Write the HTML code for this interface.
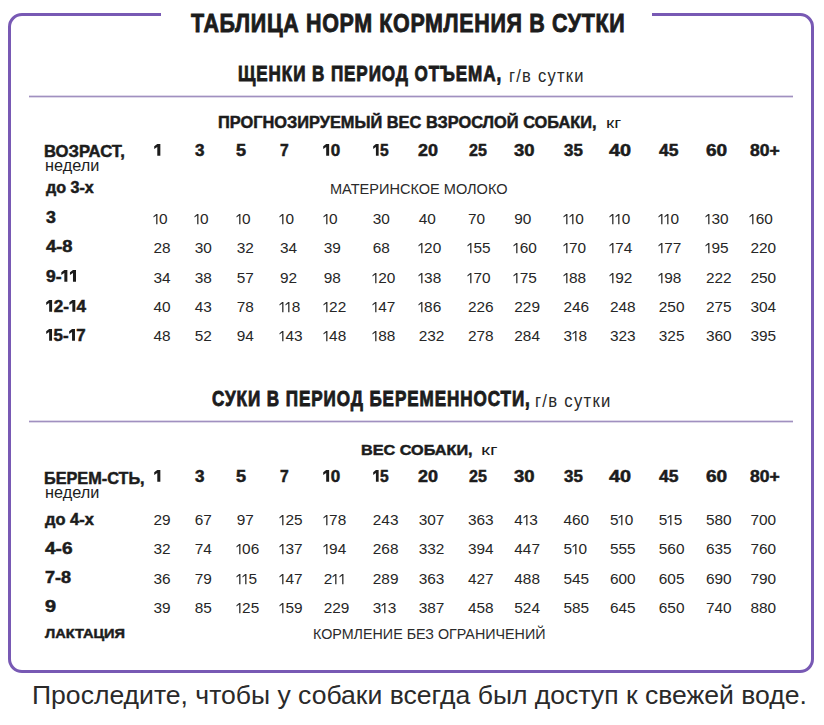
<!DOCTYPE html>
<html><head><meta charset="utf-8"><style>
html,body{margin:0;padding:0;background:#fff;width:824px;height:725px;overflow:hidden;}
body{position:relative;font-family:"Liberation Sans",sans-serif;}
.t{position:absolute;white-space:nowrap;line-height:1;transform-origin:0 0;}
.one{display:inline-block;width:6.4px;height:0.67em;fill:currentColor;vertical-align:baseline;overflow:visible;}
.one.bd{width:7.3px;height:0.73em;}
.ln{position:absolute;left:29px;width:764px;height:1px;background:#a090c0;box-shadow:0 1px 0 rgba(160,144,192,.35),0 -1px 0 rgba(160,144,192,.35);}
.box{position:absolute;left:8px;top:13px;width:800px;height:653.5px;border:3px solid #7859b4;border-radius:14px;}
.gap{position:absolute;left:161px;top:10px;width:491px;height:10px;background:#fff;}
</style></head><body>
<div class="box"></div><div class="gap"></div>
<div class="t" id="title" style="left:190.60px;top:10.00px;font-size:26.2px;font-weight:700;color:#1c1c1c;letter-spacing:0.8px;-webkit-text-stroke:0.9px #1c1c1c;transform:scaleX(0.8193);">ТАБЛИЦА НОРМ КОРМЛЕНИЯ В СУТКИ</div>
<div class="t" id="sub1" style="left:238.00px;top:63.00px;font-size:22.5px;font-weight:700;color:#1c1c1c;letter-spacing:1.2px;-webkit-text-stroke:0.9px #1c1c1c;transform:scaleX(0.7587);">ЩЕНКИ В ПЕРИОД ОТЪЕМА,</div>
<div class="t" id="sub1r" style="left:508.60px;top:67.00px;font-size:18.5px;font-weight:400;color:#2a2a2a;letter-spacing:1.4px;transform:scaleX(0.8922);">г/в сутки</div>
<div class="ln" style="top:96px"></div>
<div class="t" id="head1" style="left:218.30px;top:115.00px;font-size:16px;font-weight:700;color:#1c1c1c;-webkit-text-stroke:0.5px #1c1c1c;transform:scaleX(1.0229);">ПРОГНОЗИРУЕМЫЙ ВЕС ВЗРОСЛОЙ СОБАКИ,</div>
<div class="t" id="head1r" style="left:606.20px;top:115.00px;font-size:15.5px;font-weight:400;color:#1c1c1c;transform:scaleX(1.2196);">кг</div>
<div class="t" id="t1lab" style="left:44.00px;top:143.00px;font-size:16.3px;font-weight:700;color:#1c1c1c;-webkit-text-stroke:0.5px #1c1c1c;transform:scaleX(1.0214);">ВОЗРАСТ,</div>
<div class="t" id="t1ned" style="left:44.60px;top:157.00px;font-size:16.4px;font-weight:400;color:#1c1c1c;transform:scaleX(0.9922);">недели</div>
<div class="t" id="t1h0" style="left:153.50px;top:143.00px;font-size:16.0px;font-weight:700;color:#1c1c1c;-webkit-text-stroke:0.5px #1c1c1c;transform:scaleX(1.0946);"><svg class="one bd" viewBox="0 0 73 100" preserveAspectRatio="none"><path d="M30 0H58V100H30V25L2 43V19Z"/></svg></div>
<div class="t" id="t1h1" style="left:194.70px;top:143.00px;font-size:16.0px;font-weight:700;color:#1c1c1c;-webkit-text-stroke:0.5px #1c1c1c;transform:scaleX(1.0641);">3</div>
<div class="t" id="t1h2" style="left:236.20px;top:143.00px;font-size:16.0px;font-weight:700;color:#1c1c1c;-webkit-text-stroke:0.5px #1c1c1c;transform:scaleX(1.1290);">5</div>
<div class="t" id="t1h3" style="left:280.00px;top:143.00px;font-size:16.0px;font-weight:700;color:#1c1c1c;-webkit-text-stroke:0.5px #1c1c1c;transform:scaleX(0.9783);">7</div>
<div class="t" id="t1h4" style="left:323.20px;top:143.00px;font-size:16.0px;font-weight:700;color:#1c1c1c;-webkit-text-stroke:0.5px #1c1c1c;transform:scaleX(1.0604);"><svg class="one bd" viewBox="0 0 73 100" preserveAspectRatio="none"><path d="M30 0H58V100H30V25L2 43V19Z"/></svg>0</div>
<div class="t" id="t1h5" style="left:372.80px;top:143.00px;font-size:16.0px;font-weight:700;color:#1c1c1c;-webkit-text-stroke:0.5px #1c1c1c;transform:scaleX(0.9731);"><svg class="one bd" viewBox="0 0 73 100" preserveAspectRatio="none"><path d="M30 0H58V100H30V25L2 43V19Z"/></svg>5</div>
<div class="t" id="t1h6" style="left:418.20px;top:143.00px;font-size:16.0px;font-weight:700;color:#1c1c1c;-webkit-text-stroke:0.5px #1c1c1c;transform:scaleX(1.1207);">20</div>
<div class="t" id="t1h7" style="left:468.50px;top:143.00px;font-size:16.0px;font-weight:700;color:#1c1c1c;-webkit-text-stroke:0.5px #1c1c1c;transform:scaleX(1.0008);">25</div>
<div class="t" id="t1h8" style="left:513.80px;top:143.00px;font-size:16.0px;font-weight:700;color:#1c1c1c;-webkit-text-stroke:0.5px #1c1c1c;transform:scaleX(1.1519);">30</div>
<div class="t" id="t1h9" style="left:563.50px;top:143.00px;font-size:16.0px;font-weight:700;color:#1c1c1c;-webkit-text-stroke:0.5px #1c1c1c;transform:scaleX(1.0549);">35</div>
<div class="t" id="t1h10" style="left:609.40px;top:143.00px;font-size:16.0px;font-weight:700;color:#1c1c1c;-webkit-text-stroke:0.5px #1c1c1c;transform:scaleX(1.2379);">40</div>
<div class="t" id="t1h11" style="left:658.80px;top:143.00px;font-size:16.0px;font-weight:700;color:#1c1c1c;-webkit-text-stroke:0.5px #1c1c1c;transform:scaleX(1.0919);">45</div>
<div class="t" id="t1h12" style="left:706.00px;top:143.00px;font-size:16.0px;font-weight:700;color:#1c1c1c;-webkit-text-stroke:0.5px #1c1c1c;transform:scaleX(1.1877);">60</div>
<div class="t" id="t1h13" style="left:750.40px;top:143.00px;font-size:16.0px;font-weight:700;color:#1c1c1c;-webkit-text-stroke:0.5px #1c1c1c;transform:scaleX(1.0940);">80+</div>
<div class="t" id="t1do" style="left:45.50px;top:180.00px;font-size:16.0px;font-weight:700;color:#1c1c1c;-webkit-text-stroke:0.5px #1c1c1c;transform:scaleX(1.0059);">до 3-х</div>
<div class="t" id="t1mat" style="left:330.30px;top:182.00px;font-size:14px;font-weight:400;color:#2a2a2a;transform:scaleX(1.0387);">МАТЕРИНСКОЕ МОЛОКО</div>
<div class="t" id="t1r0" style="left:45.50px;top:209.00px;font-size:16.2px;font-weight:700;color:#1c1c1c;-webkit-text-stroke:0.5px #1c1c1c;transform:scaleX(1.0987);">3</div>
<div class="t" id="t1r0c0" style="left:152.50px;top:211.00px;font-size:15.4px;font-weight:400;color:#262626;"><svg class="one" viewBox="0 0 64 100" preserveAspectRatio="none"><path d="M32 0H44.5V100H32V14L5 35V21Z"/></svg>0</div>
<div class="t" id="t1r0c1" style="left:193.70px;top:211.00px;font-size:15.4px;font-weight:400;color:#262626;"><svg class="one" viewBox="0 0 64 100" preserveAspectRatio="none"><path d="M32 0H44.5V100H32V14L5 35V21Z"/></svg>0</div>
<div class="t" id="t1r0c2" style="left:235.70px;top:211.00px;font-size:15.4px;font-weight:400;color:#262626;"><svg class="one" viewBox="0 0 64 100" preserveAspectRatio="none"><path d="M32 0H44.5V100H32V14L5 35V21Z"/></svg>0</div>
<div class="t" id="t1r0c3" style="left:279.00px;top:211.00px;font-size:15.4px;font-weight:400;color:#262626;"><svg class="one" viewBox="0 0 64 100" preserveAspectRatio="none"><path d="M32 0H44.5V100H32V14L5 35V21Z"/></svg>0</div>
<div class="t" id="t1r0c4" style="left:322.70px;top:211.00px;font-size:15.4px;font-weight:400;color:#262626;"><svg class="one" viewBox="0 0 64 100" preserveAspectRatio="none"><path d="M32 0H44.5V100H32V14L5 35V21Z"/></svg>0</div>
<div class="t" id="t1r0c5" style="left:372.80px;top:211.00px;font-size:15.4px;font-weight:400;color:#262626;">30</div>
<div class="t" id="t1r0c6" style="left:418.70px;top:211.00px;font-size:15.4px;font-weight:400;color:#262626;">40</div>
<div class="t" id="t1r0c7" style="left:468.00px;top:211.00px;font-size:15.4px;font-weight:400;color:#262626;">70</div>
<div class="t" id="t1r0c8" style="left:514.30px;top:211.00px;font-size:15.4px;font-weight:400;color:#262626;">90</div>
<div class="t" id="t1r0c9" style="left:562.50px;top:211.00px;font-size:15.4px;font-weight:400;color:#262626;"><svg class="one" viewBox="0 0 64 100" preserveAspectRatio="none"><path d="M32 0H44.5V100H32V14L5 35V21Z"/></svg><svg class="one" viewBox="0 0 64 100" preserveAspectRatio="none"><path d="M32 0H44.5V100H32V14L5 35V21Z"/></svg>0</div>
<div class="t" id="t1r0c10" style="left:608.90px;top:211.00px;font-size:15.4px;font-weight:400;color:#262626;"><svg class="one" viewBox="0 0 64 100" preserveAspectRatio="none"><path d="M32 0H44.5V100H32V14L5 35V21Z"/></svg><svg class="one" viewBox="0 0 64 100" preserveAspectRatio="none"><path d="M32 0H44.5V100H32V14L5 35V21Z"/></svg>0</div>
<div class="t" id="t1r0c11" style="left:657.80px;top:211.00px;font-size:15.4px;font-weight:400;color:#262626;"><svg class="one" viewBox="0 0 64 100" preserveAspectRatio="none"><path d="M32 0H44.5V100H32V14L5 35V21Z"/></svg><svg class="one" viewBox="0 0 64 100" preserveAspectRatio="none"><path d="M32 0H44.5V100H32V14L5 35V21Z"/></svg>0</div>
<div class="t" id="t1r0c12" style="left:705.00px;top:211.00px;font-size:15.4px;font-weight:400;color:#262626;"><svg class="one" viewBox="0 0 64 100" preserveAspectRatio="none"><path d="M32 0H44.5V100H32V14L5 35V21Z"/></svg>30</div>
<div class="t" id="t1r0c13" style="left:749.40px;top:211.00px;font-size:15.4px;font-weight:400;color:#262626;"><svg class="one" viewBox="0 0 64 100" preserveAspectRatio="none"><path d="M32 0H44.5V100H32V14L5 35V21Z"/></svg>60</div>
<div class="t" id="t1r1" style="left:45.50px;top:238.00px;font-size:16.2px;font-weight:700;color:#1c1c1c;-webkit-text-stroke:0.5px #1c1c1c;transform:scaleX(1.1342);">4-8</div>
<div class="t" id="t1r1c0" style="left:153.50px;top:240.00px;font-size:15.4px;font-weight:400;color:#262626;">28</div>
<div class="t" id="t1r1c1" style="left:194.70px;top:240.00px;font-size:15.4px;font-weight:400;color:#262626;">30</div>
<div class="t" id="t1r1c2" style="left:236.70px;top:240.00px;font-size:15.4px;font-weight:400;color:#262626;">32</div>
<div class="t" id="t1r1c3" style="left:280.00px;top:240.00px;font-size:15.4px;font-weight:400;color:#262626;">34</div>
<div class="t" id="t1r1c4" style="left:323.70px;top:240.00px;font-size:15.4px;font-weight:400;color:#262626;">39</div>
<div class="t" id="t1r1c5" style="left:372.80px;top:240.00px;font-size:15.4px;font-weight:400;color:#262626;">68</div>
<div class="t" id="t1r1c6" style="left:417.70px;top:240.00px;font-size:15.4px;font-weight:400;color:#262626;"><svg class="one" viewBox="0 0 64 100" preserveAspectRatio="none"><path d="M32 0H44.5V100H32V14L5 35V21Z"/></svg>20</div>
<div class="t" id="t1r1c7" style="left:467.00px;top:240.00px;font-size:15.4px;font-weight:400;color:#262626;"><svg class="one" viewBox="0 0 64 100" preserveAspectRatio="none"><path d="M32 0H44.5V100H32V14L5 35V21Z"/></svg>55</div>
<div class="t" id="t1r1c8" style="left:513.30px;top:240.00px;font-size:15.4px;font-weight:400;color:#262626;"><svg class="one" viewBox="0 0 64 100" preserveAspectRatio="none"><path d="M32 0H44.5V100H32V14L5 35V21Z"/></svg>60</div>
<div class="t" id="t1r1c9" style="left:562.50px;top:240.00px;font-size:15.4px;font-weight:400;color:#262626;"><svg class="one" viewBox="0 0 64 100" preserveAspectRatio="none"><path d="M32 0H44.5V100H32V14L5 35V21Z"/></svg>70</div>
<div class="t" id="t1r1c10" style="left:608.90px;top:240.00px;font-size:15.4px;font-weight:400;color:#262626;"><svg class="one" viewBox="0 0 64 100" preserveAspectRatio="none"><path d="M32 0H44.5V100H32V14L5 35V21Z"/></svg>74</div>
<div class="t" id="t1r1c11" style="left:657.80px;top:240.00px;font-size:15.4px;font-weight:400;color:#262626;"><svg class="one" viewBox="0 0 64 100" preserveAspectRatio="none"><path d="M32 0H44.5V100H32V14L5 35V21Z"/></svg>77</div>
<div class="t" id="t1r1c12" style="left:705.00px;top:240.00px;font-size:15.4px;font-weight:400;color:#262626;"><svg class="one" viewBox="0 0 64 100" preserveAspectRatio="none"><path d="M32 0H44.5V100H32V14L5 35V21Z"/></svg>95</div>
<div class="t" id="t1r1c13" style="left:750.40px;top:240.00px;font-size:15.4px;font-weight:400;color:#262626;">220</div>
<div class="t" id="t1r2" style="left:45.50px;top:268.00px;font-size:16.2px;font-weight:700;color:#1c1c1c;-webkit-text-stroke:0.5px #1c1c1c;transform:scaleX(1.0791);">9-<svg class="one bd" viewBox="0 0 73 100" preserveAspectRatio="none"><path d="M30 0H58V100H30V25L2 43V19Z"/></svg><svg class="one bd" viewBox="0 0 73 100" preserveAspectRatio="none"><path d="M30 0H58V100H30V25L2 43V19Z"/></svg></div>
<div class="t" id="t1r2c0" style="left:153.50px;top:270.00px;font-size:15.4px;font-weight:400;color:#262626;">34</div>
<div class="t" id="t1r2c1" style="left:194.70px;top:270.00px;font-size:15.4px;font-weight:400;color:#262626;">38</div>
<div class="t" id="t1r2c2" style="left:236.70px;top:270.00px;font-size:15.4px;font-weight:400;color:#262626;">57</div>
<div class="t" id="t1r2c3" style="left:280.00px;top:270.00px;font-size:15.4px;font-weight:400;color:#262626;">92</div>
<div class="t" id="t1r2c4" style="left:323.70px;top:270.00px;font-size:15.4px;font-weight:400;color:#262626;">98</div>
<div class="t" id="t1r2c5" style="left:371.80px;top:270.00px;font-size:15.4px;font-weight:400;color:#262626;"><svg class="one" viewBox="0 0 64 100" preserveAspectRatio="none"><path d="M32 0H44.5V100H32V14L5 35V21Z"/></svg>20</div>
<div class="t" id="t1r2c6" style="left:417.70px;top:270.00px;font-size:15.4px;font-weight:400;color:#262626;"><svg class="one" viewBox="0 0 64 100" preserveAspectRatio="none"><path d="M32 0H44.5V100H32V14L5 35V21Z"/></svg>38</div>
<div class="t" id="t1r2c7" style="left:467.00px;top:270.00px;font-size:15.4px;font-weight:400;color:#262626;"><svg class="one" viewBox="0 0 64 100" preserveAspectRatio="none"><path d="M32 0H44.5V100H32V14L5 35V21Z"/></svg>70</div>
<div class="t" id="t1r2c8" style="left:513.30px;top:270.00px;font-size:15.4px;font-weight:400;color:#262626;"><svg class="one" viewBox="0 0 64 100" preserveAspectRatio="none"><path d="M32 0H44.5V100H32V14L5 35V21Z"/></svg>75</div>
<div class="t" id="t1r2c9" style="left:562.50px;top:270.00px;font-size:15.4px;font-weight:400;color:#262626;"><svg class="one" viewBox="0 0 64 100" preserveAspectRatio="none"><path d="M32 0H44.5V100H32V14L5 35V21Z"/></svg>88</div>
<div class="t" id="t1r2c10" style="left:608.90px;top:270.00px;font-size:15.4px;font-weight:400;color:#262626;"><svg class="one" viewBox="0 0 64 100" preserveAspectRatio="none"><path d="M32 0H44.5V100H32V14L5 35V21Z"/></svg>92</div>
<div class="t" id="t1r2c11" style="left:657.80px;top:270.00px;font-size:15.4px;font-weight:400;color:#262626;"><svg class="one" viewBox="0 0 64 100" preserveAspectRatio="none"><path d="M32 0H44.5V100H32V14L5 35V21Z"/></svg>98</div>
<div class="t" id="t1r2c12" style="left:706.00px;top:270.00px;font-size:15.4px;font-weight:400;color:#262626;">222</div>
<div class="t" id="t1r2c13" style="left:750.40px;top:270.00px;font-size:15.4px;font-weight:400;color:#262626;">250</div>
<div class="t" id="t1r3" style="left:45.50px;top:298.00px;font-size:16.2px;font-weight:700;color:#1c1c1c;-webkit-text-stroke:0.5px #1c1c1c;transform:scaleX(1.0543);"><svg class="one bd" viewBox="0 0 73 100" preserveAspectRatio="none"><path d="M30 0H58V100H30V25L2 43V19Z"/></svg>2-<svg class="one bd" viewBox="0 0 73 100" preserveAspectRatio="none"><path d="M30 0H58V100H30V25L2 43V19Z"/></svg>4</div>
<div class="t" id="t1r3c0" style="left:153.50px;top:299.00px;font-size:15.4px;font-weight:400;color:#262626;">40</div>
<div class="t" id="t1r3c1" style="left:194.70px;top:299.00px;font-size:15.4px;font-weight:400;color:#262626;">43</div>
<div class="t" id="t1r3c2" style="left:236.70px;top:299.00px;font-size:15.4px;font-weight:400;color:#262626;">78</div>
<div class="t" id="t1r3c3" style="left:279.00px;top:299.00px;font-size:15.4px;font-weight:400;color:#262626;"><svg class="one" viewBox="0 0 64 100" preserveAspectRatio="none"><path d="M32 0H44.5V100H32V14L5 35V21Z"/></svg><svg class="one" viewBox="0 0 64 100" preserveAspectRatio="none"><path d="M32 0H44.5V100H32V14L5 35V21Z"/></svg>8</div>
<div class="t" id="t1r3c4" style="left:322.70px;top:299.00px;font-size:15.4px;font-weight:400;color:#262626;"><svg class="one" viewBox="0 0 64 100" preserveAspectRatio="none"><path d="M32 0H44.5V100H32V14L5 35V21Z"/></svg>22</div>
<div class="t" id="t1r3c5" style="left:371.80px;top:299.00px;font-size:15.4px;font-weight:400;color:#262626;"><svg class="one" viewBox="0 0 64 100" preserveAspectRatio="none"><path d="M32 0H44.5V100H32V14L5 35V21Z"/></svg>47</div>
<div class="t" id="t1r3c6" style="left:417.70px;top:299.00px;font-size:15.4px;font-weight:400;color:#262626;"><svg class="one" viewBox="0 0 64 100" preserveAspectRatio="none"><path d="M32 0H44.5V100H32V14L5 35V21Z"/></svg>86</div>
<div class="t" id="t1r3c7" style="left:468.00px;top:299.00px;font-size:15.4px;font-weight:400;color:#262626;">226</div>
<div class="t" id="t1r3c8" style="left:514.30px;top:299.00px;font-size:15.4px;font-weight:400;color:#262626;">229</div>
<div class="t" id="t1r3c9" style="left:563.50px;top:299.00px;font-size:15.4px;font-weight:400;color:#262626;">246</div>
<div class="t" id="t1r3c10" style="left:609.90px;top:299.00px;font-size:15.4px;font-weight:400;color:#262626;">248</div>
<div class="t" id="t1r3c11" style="left:658.80px;top:299.00px;font-size:15.4px;font-weight:400;color:#262626;">250</div>
<div class="t" id="t1r3c12" style="left:706.00px;top:299.00px;font-size:15.4px;font-weight:400;color:#262626;">275</div>
<div class="t" id="t1r3c13" style="left:750.40px;top:299.00px;font-size:15.4px;font-weight:400;color:#262626;">304</div>
<div class="t" id="t1r4" style="left:45.50px;top:327.00px;font-size:16.2px;font-weight:700;color:#1c1c1c;-webkit-text-stroke:0.5px #1c1c1c;transform:scaleX(1.0422);"><svg class="one bd" viewBox="0 0 73 100" preserveAspectRatio="none"><path d="M30 0H58V100H30V25L2 43V19Z"/></svg>5-<svg class="one bd" viewBox="0 0 73 100" preserveAspectRatio="none"><path d="M30 0H58V100H30V25L2 43V19Z"/></svg>7</div>
<div class="t" id="t1r4c0" style="left:153.50px;top:328.00px;font-size:15.4px;font-weight:400;color:#262626;">48</div>
<div class="t" id="t1r4c1" style="left:194.70px;top:328.00px;font-size:15.4px;font-weight:400;color:#262626;">52</div>
<div class="t" id="t1r4c2" style="left:236.70px;top:328.00px;font-size:15.4px;font-weight:400;color:#262626;">94</div>
<div class="t" id="t1r4c3" style="left:279.00px;top:328.00px;font-size:15.4px;font-weight:400;color:#262626;"><svg class="one" viewBox="0 0 64 100" preserveAspectRatio="none"><path d="M32 0H44.5V100H32V14L5 35V21Z"/></svg>43</div>
<div class="t" id="t1r4c4" style="left:322.70px;top:328.00px;font-size:15.4px;font-weight:400;color:#262626;"><svg class="one" viewBox="0 0 64 100" preserveAspectRatio="none"><path d="M32 0H44.5V100H32V14L5 35V21Z"/></svg>48</div>
<div class="t" id="t1r4c5" style="left:371.80px;top:328.00px;font-size:15.4px;font-weight:400;color:#262626;"><svg class="one" viewBox="0 0 64 100" preserveAspectRatio="none"><path d="M32 0H44.5V100H32V14L5 35V21Z"/></svg>88</div>
<div class="t" id="t1r4c6" style="left:418.70px;top:328.00px;font-size:15.4px;font-weight:400;color:#262626;">232</div>
<div class="t" id="t1r4c7" style="left:468.00px;top:328.00px;font-size:15.4px;font-weight:400;color:#262626;">278</div>
<div class="t" id="t1r4c8" style="left:514.30px;top:328.00px;font-size:15.4px;font-weight:400;color:#262626;">284</div>
<div class="t" id="t1r4c9" style="left:563.50px;top:328.00px;font-size:15.4px;font-weight:400;color:#262626;">3<svg class="one" viewBox="0 0 64 100" preserveAspectRatio="none"><path d="M32 0H44.5V100H32V14L5 35V21Z"/></svg>8</div>
<div class="t" id="t1r4c10" style="left:609.90px;top:328.00px;font-size:15.4px;font-weight:400;color:#262626;">323</div>
<div class="t" id="t1r4c11" style="left:658.80px;top:328.00px;font-size:15.4px;font-weight:400;color:#262626;">325</div>
<div class="t" id="t1r4c12" style="left:706.00px;top:328.00px;font-size:15.4px;font-weight:400;color:#262626;">360</div>
<div class="t" id="t1r4c13" style="left:750.40px;top:328.00px;font-size:15.4px;font-weight:400;color:#262626;">395</div>
<div class="t" id="sub2" style="left:212.00px;top:388.00px;font-size:22.5px;font-weight:700;color:#1c1c1c;letter-spacing:1.2px;-webkit-text-stroke:0.9px #1c1c1c;transform:scaleX(0.7596);">СУКИ В ПЕРИОД БЕРЕМЕННОСТИ,</div>
<div class="t" id="sub2r" style="left:534.60px;top:392.00px;font-size:18.5px;font-weight:400;color:#2a2a2a;letter-spacing:1.4px;transform:scaleX(0.9025);">г/в сутки</div>
<div class="ln" style="top:421px"></div>
<div class="t" id="head2" style="left:361.30px;top:442.00px;font-size:15.4px;font-weight:700;color:#1c1c1c;-webkit-text-stroke:0.5px #1c1c1c;transform:scaleX(1.0545);">ВЕС СОБАКИ,</div>
<div class="t" id="head2r" style="left:480.60px;top:442.00px;font-size:15.5px;font-weight:400;color:#1c1c1c;transform:scaleX(1.3304);">кг</div>
<div class="t" id="t2lab" style="left:44.00px;top:470.00px;font-size:16.3px;font-weight:700;color:#1c1c1c;-webkit-text-stroke:0.5px #1c1c1c;transform:scaleX(0.9984);">БЕРЕМ-СТЬ,</div>
<div class="t" id="t2ned" style="left:44.60px;top:484.00px;font-size:16.4px;font-weight:400;color:#1c1c1c;transform:scaleX(0.9922);">недели</div>
<div class="t" id="t2h0" style="left:153.50px;top:469.00px;font-size:16.0px;font-weight:700;color:#1c1c1c;-webkit-text-stroke:0.5px #1c1c1c;transform:scaleX(1.0946);"><svg class="one bd" viewBox="0 0 73 100" preserveAspectRatio="none"><path d="M30 0H58V100H30V25L2 43V19Z"/></svg></div>
<div class="t" id="t2h1" style="left:194.70px;top:469.00px;font-size:16.0px;font-weight:700;color:#1c1c1c;-webkit-text-stroke:0.5px #1c1c1c;transform:scaleX(1.0641);">3</div>
<div class="t" id="t2h2" style="left:236.20px;top:469.00px;font-size:16.0px;font-weight:700;color:#1c1c1c;-webkit-text-stroke:0.5px #1c1c1c;transform:scaleX(1.1290);">5</div>
<div class="t" id="t2h3" style="left:280.00px;top:469.00px;font-size:16.0px;font-weight:700;color:#1c1c1c;-webkit-text-stroke:0.5px #1c1c1c;transform:scaleX(0.9783);">7</div>
<div class="t" id="t2h4" style="left:323.20px;top:469.00px;font-size:16.0px;font-weight:700;color:#1c1c1c;-webkit-text-stroke:0.5px #1c1c1c;transform:scaleX(1.0604);"><svg class="one bd" viewBox="0 0 73 100" preserveAspectRatio="none"><path d="M30 0H58V100H30V25L2 43V19Z"/></svg>0</div>
<div class="t" id="t2h5" style="left:372.80px;top:469.00px;font-size:16.0px;font-weight:700;color:#1c1c1c;-webkit-text-stroke:0.5px #1c1c1c;transform:scaleX(0.9731);"><svg class="one bd" viewBox="0 0 73 100" preserveAspectRatio="none"><path d="M30 0H58V100H30V25L2 43V19Z"/></svg>5</div>
<div class="t" id="t2h6" style="left:418.20px;top:469.00px;font-size:16.0px;font-weight:700;color:#1c1c1c;-webkit-text-stroke:0.5px #1c1c1c;transform:scaleX(1.1207);">20</div>
<div class="t" id="t2h7" style="left:468.50px;top:469.00px;font-size:16.0px;font-weight:700;color:#1c1c1c;-webkit-text-stroke:0.5px #1c1c1c;transform:scaleX(1.0008);">25</div>
<div class="t" id="t2h8" style="left:513.80px;top:469.00px;font-size:16.0px;font-weight:700;color:#1c1c1c;-webkit-text-stroke:0.5px #1c1c1c;transform:scaleX(1.1519);">30</div>
<div class="t" id="t2h9" style="left:563.50px;top:469.00px;font-size:16.0px;font-weight:700;color:#1c1c1c;-webkit-text-stroke:0.5px #1c1c1c;transform:scaleX(1.0549);">35</div>
<div class="t" id="t2h10" style="left:609.40px;top:469.00px;font-size:16.0px;font-weight:700;color:#1c1c1c;-webkit-text-stroke:0.5px #1c1c1c;transform:scaleX(1.2379);">40</div>
<div class="t" id="t2h11" style="left:658.80px;top:469.00px;font-size:16.0px;font-weight:700;color:#1c1c1c;-webkit-text-stroke:0.5px #1c1c1c;transform:scaleX(1.0919);">45</div>
<div class="t" id="t2h12" style="left:706.00px;top:469.00px;font-size:16.0px;font-weight:700;color:#1c1c1c;-webkit-text-stroke:0.5px #1c1c1c;transform:scaleX(1.1877);">60</div>
<div class="t" id="t2h13" style="left:750.40px;top:469.00px;font-size:16.0px;font-weight:700;color:#1c1c1c;-webkit-text-stroke:0.5px #1c1c1c;transform:scaleX(1.0940);">80+</div>
<div class="t" id="t2r0" style="left:45.00px;top:511.00px;font-size:16.2px;font-weight:700;color:#1c1c1c;-webkit-text-stroke:0.5px #1c1c1c;transform:scaleX(1.0151);">до 4-х</div>
<div class="t" id="t2r0c0" style="left:153.50px;top:512.00px;font-size:15.4px;font-weight:400;color:#262626;">29</div>
<div class="t" id="t2r0c1" style="left:194.70px;top:512.00px;font-size:15.4px;font-weight:400;color:#262626;">67</div>
<div class="t" id="t2r0c2" style="left:236.70px;top:512.00px;font-size:15.4px;font-weight:400;color:#262626;">97</div>
<div class="t" id="t2r0c3" style="left:279.00px;top:512.00px;font-size:15.4px;font-weight:400;color:#262626;"><svg class="one" viewBox="0 0 64 100" preserveAspectRatio="none"><path d="M32 0H44.5V100H32V14L5 35V21Z"/></svg>25</div>
<div class="t" id="t2r0c4" style="left:322.70px;top:512.00px;font-size:15.4px;font-weight:400;color:#262626;"><svg class="one" viewBox="0 0 64 100" preserveAspectRatio="none"><path d="M32 0H44.5V100H32V14L5 35V21Z"/></svg>78</div>
<div class="t" id="t2r0c5" style="left:372.80px;top:512.00px;font-size:15.4px;font-weight:400;color:#262626;">243</div>
<div class="t" id="t2r0c6" style="left:418.70px;top:512.00px;font-size:15.4px;font-weight:400;color:#262626;">307</div>
<div class="t" id="t2r0c7" style="left:468.00px;top:512.00px;font-size:15.4px;font-weight:400;color:#262626;">363</div>
<div class="t" id="t2r0c8" style="left:514.30px;top:512.00px;font-size:15.4px;font-weight:400;color:#262626;">4<svg class="one" viewBox="0 0 64 100" preserveAspectRatio="none"><path d="M32 0H44.5V100H32V14L5 35V21Z"/></svg>3</div>
<div class="t" id="t2r0c9" style="left:563.50px;top:512.00px;font-size:15.4px;font-weight:400;color:#262626;">460</div>
<div class="t" id="t2r0c10" style="left:609.90px;top:512.00px;font-size:15.4px;font-weight:400;color:#262626;">5<svg class="one" viewBox="0 0 64 100" preserveAspectRatio="none"><path d="M32 0H44.5V100H32V14L5 35V21Z"/></svg>0</div>
<div class="t" id="t2r0c11" style="left:658.80px;top:512.00px;font-size:15.4px;font-weight:400;color:#262626;">5<svg class="one" viewBox="0 0 64 100" preserveAspectRatio="none"><path d="M32 0H44.5V100H32V14L5 35V21Z"/></svg>5</div>
<div class="t" id="t2r0c12" style="left:706.00px;top:512.00px;font-size:15.4px;font-weight:400;color:#262626;">580</div>
<div class="t" id="t2r0c13" style="left:750.40px;top:512.00px;font-size:15.4px;font-weight:400;color:#262626;">700</div>
<div class="t" id="t2r1" style="left:45.00px;top:540.00px;font-size:16.2px;font-weight:700;color:#1c1c1c;-webkit-text-stroke:0.5px #1c1c1c;transform:scaleX(1.1767);">4-6</div>
<div class="t" id="t2r1c0" style="left:153.50px;top:541.00px;font-size:15.4px;font-weight:400;color:#262626;">32</div>
<div class="t" id="t2r1c1" style="left:194.70px;top:541.00px;font-size:15.4px;font-weight:400;color:#262626;">74</div>
<div class="t" id="t2r1c2" style="left:235.70px;top:541.00px;font-size:15.4px;font-weight:400;color:#262626;"><svg class="one" viewBox="0 0 64 100" preserveAspectRatio="none"><path d="M32 0H44.5V100H32V14L5 35V21Z"/></svg>06</div>
<div class="t" id="t2r1c3" style="left:279.00px;top:541.00px;font-size:15.4px;font-weight:400;color:#262626;"><svg class="one" viewBox="0 0 64 100" preserveAspectRatio="none"><path d="M32 0H44.5V100H32V14L5 35V21Z"/></svg>37</div>
<div class="t" id="t2r1c4" style="left:322.70px;top:541.00px;font-size:15.4px;font-weight:400;color:#262626;"><svg class="one" viewBox="0 0 64 100" preserveAspectRatio="none"><path d="M32 0H44.5V100H32V14L5 35V21Z"/></svg>94</div>
<div class="t" id="t2r1c5" style="left:372.80px;top:541.00px;font-size:15.4px;font-weight:400;color:#262626;">268</div>
<div class="t" id="t2r1c6" style="left:418.70px;top:541.00px;font-size:15.4px;font-weight:400;color:#262626;">332</div>
<div class="t" id="t2r1c7" style="left:468.00px;top:541.00px;font-size:15.4px;font-weight:400;color:#262626;">394</div>
<div class="t" id="t2r1c8" style="left:514.30px;top:541.00px;font-size:15.4px;font-weight:400;color:#262626;">447</div>
<div class="t" id="t2r1c9" style="left:563.50px;top:541.00px;font-size:15.4px;font-weight:400;color:#262626;">5<svg class="one" viewBox="0 0 64 100" preserveAspectRatio="none"><path d="M32 0H44.5V100H32V14L5 35V21Z"/></svg>0</div>
<div class="t" id="t2r1c10" style="left:609.90px;top:541.00px;font-size:15.4px;font-weight:400;color:#262626;">555</div>
<div class="t" id="t2r1c11" style="left:658.80px;top:541.00px;font-size:15.4px;font-weight:400;color:#262626;">560</div>
<div class="t" id="t2r1c12" style="left:706.00px;top:541.00px;font-size:15.4px;font-weight:400;color:#262626;">635</div>
<div class="t" id="t2r1c13" style="left:750.40px;top:541.00px;font-size:15.4px;font-weight:400;color:#262626;">760</div>
<div class="t" id="t2r2" style="left:45.00px;top:569.00px;font-size:16.2px;font-weight:700;color:#1c1c1c;-webkit-text-stroke:0.5px #1c1c1c;transform:scaleX(1.1158);">7-8</div>
<div class="t" id="t2r2c0" style="left:153.50px;top:571.00px;font-size:15.4px;font-weight:400;color:#262626;">36</div>
<div class="t" id="t2r2c1" style="left:194.70px;top:571.00px;font-size:15.4px;font-weight:400;color:#262626;">79</div>
<div class="t" id="t2r2c2" style="left:235.70px;top:571.00px;font-size:15.4px;font-weight:400;color:#262626;"><svg class="one" viewBox="0 0 64 100" preserveAspectRatio="none"><path d="M32 0H44.5V100H32V14L5 35V21Z"/></svg><svg class="one" viewBox="0 0 64 100" preserveAspectRatio="none"><path d="M32 0H44.5V100H32V14L5 35V21Z"/></svg>5</div>
<div class="t" id="t2r2c3" style="left:279.00px;top:571.00px;font-size:15.4px;font-weight:400;color:#262626;"><svg class="one" viewBox="0 0 64 100" preserveAspectRatio="none"><path d="M32 0H44.5V100H32V14L5 35V21Z"/></svg>47</div>
<div class="t" id="t2r2c4" style="left:323.70px;top:571.00px;font-size:15.4px;font-weight:400;color:#262626;">2<svg class="one" viewBox="0 0 64 100" preserveAspectRatio="none"><path d="M32 0H44.5V100H32V14L5 35V21Z"/></svg><svg class="one" viewBox="0 0 64 100" preserveAspectRatio="none"><path d="M32 0H44.5V100H32V14L5 35V21Z"/></svg></div>
<div class="t" id="t2r2c5" style="left:372.80px;top:571.00px;font-size:15.4px;font-weight:400;color:#262626;">289</div>
<div class="t" id="t2r2c6" style="left:418.70px;top:571.00px;font-size:15.4px;font-weight:400;color:#262626;">363</div>
<div class="t" id="t2r2c7" style="left:468.00px;top:571.00px;font-size:15.4px;font-weight:400;color:#262626;">427</div>
<div class="t" id="t2r2c8" style="left:514.30px;top:571.00px;font-size:15.4px;font-weight:400;color:#262626;">488</div>
<div class="t" id="t2r2c9" style="left:563.50px;top:571.00px;font-size:15.4px;font-weight:400;color:#262626;">545</div>
<div class="t" id="t2r2c10" style="left:609.90px;top:571.00px;font-size:15.4px;font-weight:400;color:#262626;">600</div>
<div class="t" id="t2r2c11" style="left:658.80px;top:571.00px;font-size:15.4px;font-weight:400;color:#262626;">605</div>
<div class="t" id="t2r2c12" style="left:706.00px;top:571.00px;font-size:15.4px;font-weight:400;color:#262626;">690</div>
<div class="t" id="t2r2c13" style="left:750.40px;top:571.00px;font-size:15.4px;font-weight:400;color:#262626;">790</div>
<div class="t" id="t2r3" style="left:45.00px;top:598.00px;font-size:16.2px;font-weight:700;color:#1c1c1c;-webkit-text-stroke:0.5px #1c1c1c;transform:scaleX(1.2265);">9</div>
<div class="t" id="t2r3c0" style="left:153.50px;top:600.00px;font-size:15.4px;font-weight:400;color:#262626;">39</div>
<div class="t" id="t2r3c1" style="left:194.70px;top:600.00px;font-size:15.4px;font-weight:400;color:#262626;">85</div>
<div class="t" id="t2r3c2" style="left:235.70px;top:600.00px;font-size:15.4px;font-weight:400;color:#262626;"><svg class="one" viewBox="0 0 64 100" preserveAspectRatio="none"><path d="M32 0H44.5V100H32V14L5 35V21Z"/></svg>25</div>
<div class="t" id="t2r3c3" style="left:279.00px;top:600.00px;font-size:15.4px;font-weight:400;color:#262626;"><svg class="one" viewBox="0 0 64 100" preserveAspectRatio="none"><path d="M32 0H44.5V100H32V14L5 35V21Z"/></svg>59</div>
<div class="t" id="t2r3c4" style="left:323.70px;top:600.00px;font-size:15.4px;font-weight:400;color:#262626;">229</div>
<div class="t" id="t2r3c5" style="left:372.80px;top:600.00px;font-size:15.4px;font-weight:400;color:#262626;">3<svg class="one" viewBox="0 0 64 100" preserveAspectRatio="none"><path d="M32 0H44.5V100H32V14L5 35V21Z"/></svg>3</div>
<div class="t" id="t2r3c6" style="left:418.70px;top:600.00px;font-size:15.4px;font-weight:400;color:#262626;">387</div>
<div class="t" id="t2r3c7" style="left:468.00px;top:600.00px;font-size:15.4px;font-weight:400;color:#262626;">458</div>
<div class="t" id="t2r3c8" style="left:514.30px;top:600.00px;font-size:15.4px;font-weight:400;color:#262626;">524</div>
<div class="t" id="t2r3c9" style="left:563.50px;top:600.00px;font-size:15.4px;font-weight:400;color:#262626;">585</div>
<div class="t" id="t2r3c10" style="left:609.90px;top:600.00px;font-size:15.4px;font-weight:400;color:#262626;">645</div>
<div class="t" id="t2r3c11" style="left:658.80px;top:600.00px;font-size:15.4px;font-weight:400;color:#262626;">650</div>
<div class="t" id="t2r3c12" style="left:706.00px;top:600.00px;font-size:15.4px;font-weight:400;color:#262626;">740</div>
<div class="t" id="t2r3c13" style="left:750.40px;top:600.00px;font-size:15.4px;font-weight:400;color:#262626;">880</div>
<div class="t" id="lakt" style="left:45.00px;top:627.00px;font-size:13.5px;font-weight:700;color:#1c1c1c;-webkit-text-stroke:0.5px #1c1c1c;transform:scaleX(1.0780);">ЛАКТАЦИЯ</div>
<div class="t" id="korm" style="left:312.80px;top:627.00px;font-size:14px;font-weight:400;color:#2a2a2a;transform:scaleX(1.0219);">КОРМЛЕНИЕ БЕЗ ОГРАНИЧЕНИЙ</div>
<div class="t" id="foot" style="left:32.40px;top:683.00px;font-size:25px;font-weight:400;color:#2a2a2a;transform:scaleX(1.0623);">Проследите, чтобы у собаки всегда был доступ к свежей воде.</div>
</body></html>
